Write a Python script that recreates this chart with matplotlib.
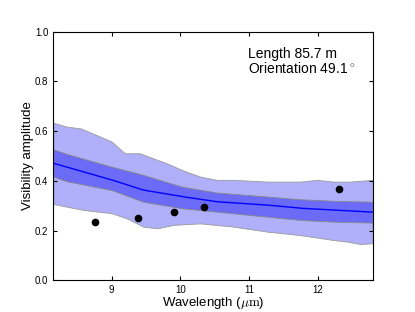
import numpy as np
import matplotlib
matplotlib.use("Agg")
import matplotlib.pyplot as plt

plt.rcParams['font.family'] = ['Liberation Sans', 'DejaVu Sans']
plt.rcParams['mathtext.fontset'] = 'cm'

# outer band (wavelength, lower, upper)
wl_outer_up = [8.15, 8.35, 8.55, 8.78, 9.0, 9.19, 9.41, 9.6, 9.8, 10.02, 10.29, 10.53, 10.78, 11.26, 11.75, 11.99, 12.23, 12.47, 12.8]
outer_up = [0.634, 0.618, 0.611, 0.584, 0.558, 0.511, 0.511, 0.491, 0.471, 0.444, 0.417, 0.404, 0.404, 0.397, 0.397, 0.404, 0.397, 0.397, 0.404]
wl_outer_lo = [8.15, 8.59, 9.0, 9.22, 9.46, 9.66, 9.9, 10.29, 10.77, 11.26, 11.74, 12.23, 12.42, 12.62, 12.8]
outer_lo = [0.307, 0.283, 0.270, 0.249, 0.216, 0.209, 0.223, 0.229, 0.216, 0.196, 0.182, 0.162, 0.156, 0.146, 0.149]

# inner band and median
wl_mid = [8.15, 8.35, 9.0, 9.46, 10.02, 10.53, 11.26, 11.74, 12.23, 12.8]
inner_up = [0.527, 0.508, 0.457, 0.424, 0.377, 0.353, 0.337, 0.326, 0.320, 0.316]
inner_lo = [0.417, 0.398, 0.363, 0.316, 0.290, 0.276, 0.256, 0.243, 0.236, 0.232]
median = [0.471, 0.455, 0.404, 0.363, 0.337, 0.316, 0.303, 0.290, 0.283, 0.274]

# measured visibilities
obs_wl = [8.75, 9.38, 9.91, 10.34, 12.31]
obs_vis = [0.233, 0.249, 0.275, 0.295, 0.369]

fig = plt.figure(figsize=(4.15, 3.12), dpi=100)
ax = fig.add_axes([0.1285, 0.1016, 0.7695, 0.7968])

grid = np.linspace(8.15, 12.8, 300)
o_up = np.interp(grid, wl_outer_up, outer_up)
o_lo = np.interp(grid, wl_outer_lo, outer_lo)
i_up = np.interp(grid, wl_mid, inner_up)
i_lo = np.interp(grid, wl_mid, inner_lo)
med = np.interp(grid, wl_mid, median)

ax.fill_between(grid, o_lo, o_up, facecolor=(0.69, 0.69, 0.98), edgecolor='#999999', lw=0.6)
ax.fill_between(grid, i_lo, i_up, facecolor=(0.42, 0.42, 0.97), edgecolor='#888888', lw=0.6)
ax.plot(grid, med, color='b', lw=1)
ax.plot(obs_wl, obs_vis, 'o', color='k', ms=4.5)

ax.set_xlim(8.15, 12.8)
ax.set_ylim(0, 1)
ax.set_xticks([9, 10, 11, 12])
ax.set_yticks([0.0, 0.2, 0.4, 0.6, 0.8, 1.0])
ax.tick_params(direction='in', top=True, right=True, labelsize=7, length=3)
ax.set_xlabel(r'Wavelength ($\mu\mathrm{m}$)', fontsize=9.5, labelpad=0)
ax.set_ylabel('Visibility amplitude', fontsize=9.5, labelpad=1)
ax.text(0.61, 0.94, 'Length 85.7 m\nOrientation 49.1$^\\circ$', transform=ax.transAxes,
        fontsize=10, va='top', linespacing=1.0)

fig.savefig('out.png', dpi=100)
